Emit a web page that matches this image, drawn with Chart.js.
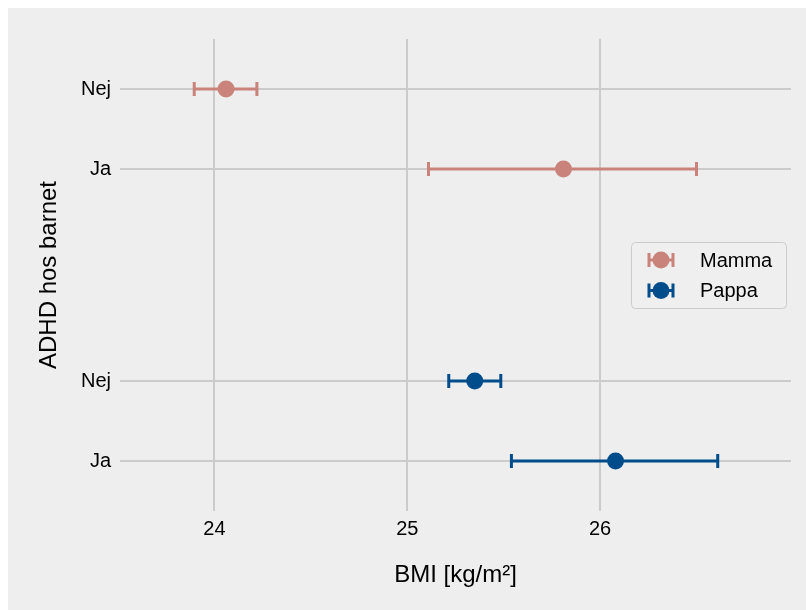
<!DOCTYPE html>
<html>
<head>
<meta charset="utf-8">
<script src="https://cdn.jsdelivr.net/npm/chart.js@4.4.1/dist/chart.umd.min.js"></script>
<style>
  body { margin: 0; background: #ffffff; }
  #wrap { position: absolute; left: 8px; top: 8px; width: 798px; height: 602px; background: #eeeeee; }
</style>
</head>
<body>
<div id="wrap"><canvas id="bmiChart" width="798" height="602"></canvas></div>
<script>
// BMI per ADHD status, mothers and fathers (mean with CI)

const seriesNames = ['Mamma', 'Pappa'];
const seriesColors = ['#c9837b', '#014d8c'];

// rows: Nej, Ja (mother) then Nej, Ja (father)
const rowLabels = ['Nej', 'Ja', 'Nej', 'Ja'];
const rowPos = [4.65, 3.65, 1, 0];
const xTicks = [24, 25, 26];

const mammaMean = [24.06, 25.81];
const mammaLow = [23.895, 25.11];
const mammaHigh = [24.22, 26.50];

const pappaMean = [25.35, 26.08];
const pappaLow = [25.215, 25.54];
const pappaHigh = [25.485, 26.61];

Chart.defaults.font.family = "'Liberation Sans', Arial, sans-serif";
Chart.defaults.color = '#000000';

function makePoints(mean, low, high, rows) {
    return mean.map((m, i) => ({ x: m, y: rows[i], xMin: low[i], xMax: high[i] }));
}

// error bars drawn under the points
const errorBars = {
    id: 'errorBars',
    beforeDatasetsDraw(chart) {
        const ctx = chart.ctx;
        const xs = chart.scales.x, ys = chart.scales.y;
        chart.data.datasets.forEach(ds => {
            ctx.save();
            ctx.strokeStyle = ds.backgroundColor;
            ctx.lineWidth = 3;
            ds.data.forEach(p => {
                const y = ys.getPixelForValue(p.y);
                const x0 = xs.getPixelForValue(p.xMin);
                const x1 = xs.getPixelForValue(p.xMax);
                ctx.beginPath();
                ctx.moveTo(x0, y); ctx.lineTo(x1, y);
                ctx.moveTo(x0, y - 7); ctx.lineTo(x0, y + 7);
                ctx.moveTo(x1, y - 7); ctx.lineTo(x1, y + 7);
                ctx.stroke();
            });
            ctx.restore();
        });
    }
};

// legend box at center right of the plot
const boxLegend = {
    id: 'boxLegend',
    afterDraw(chart) {
        const ctx = chart.ctx;
        const area = chart.chartArea;
        const w = 155, h = 66;
        const left = area.right - 5 - w;
        const top = (area.top + area.bottom) / 2 - h / 2;
        ctx.save();
        ctx.fillStyle = '#efefef';
        ctx.strokeStyle = '#cccccc';
        ctx.lineWidth = 1;
        ctx.beginPath();
        ctx.roundRect(left + 0.5, top + 0.5, w, h, 4);
        ctx.fill();
        ctx.stroke();
        chart.data.datasets.forEach((ds, i) => {
            const y = top + 18 + i * 30.5;
            const cx = left + 30;
            ctx.strokeStyle = ds.backgroundColor;
            ctx.fillStyle = ds.backgroundColor;
            ctx.lineWidth = 3;
            ctx.beginPath();
            ctx.moveTo(cx - 12, y); ctx.lineTo(cx + 12, y);
            ctx.moveTo(cx - 12, y - 7); ctx.lineTo(cx - 12, y + 7);
            ctx.moveTo(cx + 12, y - 7); ctx.lineTo(cx + 12, y + 7);
            ctx.stroke();
            ctx.beginPath();
            ctx.arc(cx, y, 8.5, 0, Math.PI * 2);
            ctx.fill();
            ctx.fillStyle = '#000000';
            ctx.font = "20px 'Liberation Sans', Arial, sans-serif";
            ctx.textBaseline = 'middle';
            ctx.fillText(ds.label, left + 69, y + 1);
        });
        ctx.restore();
    }
};

new Chart(document.getElementById('bmiChart'), {
    type: 'scatter',
    data: {
        datasets: [{
            label: seriesNames[0],
            data: makePoints(mammaMean, mammaLow, mammaHigh, rowPos.slice(0, 2)),
            backgroundColor: seriesColors[0],
            borderWidth: 0,
            pointRadius: 8.5
        }, {
            label: seriesNames[1],
            data: makePoints(pappaMean, pappaLow, pappaHigh, rowPos.slice(2, 4)),
            backgroundColor: seriesColors[1],
            borderWidth: 0,
            pointRadius: 8.5
        }]
    },
    options: {
        responsive: false,
        animation: false,
        layout: { padding: { left: 20, right: 15, top: 31, bottom: 20 } },
        plugins: {
            legend: { display: false },
            tooltip: { enabled: false }
        },
        scales: {
            x: {
                min: 23.51,
                max: 26.99,
                border: { display: false },
                grid: { color: '#cbcbcb', lineWidth: 2, drawTicks: false },
                afterBuildTicks: axis => { axis.ticks = xTicks.map(v => ({ value: v })); },
                afterFit: axis => { axis.height = 79; },
                ticks: { padding: 6, font: { size: 20 }, color: '#000000' },
                title: {
                    display: true,
                    text: 'BMI [kg/m²]',
                    font: { size: 24 },
                    padding: { top: 0, bottom: 0 }
                }
            },
            y: {
                min: -0.625,
                max: 5.275,
                border: { display: false },
                grid: { color: '#cbcbcb', lineWidth: 2, drawTicks: false },
                afterBuildTicks: axis => { axis.ticks = rowPos.map(v => ({ value: v })); },
                afterFit: axis => { axis.width = 92; },
                ticks: {
                    padding: 9,
                    font: { size: 20 },
                    color: '#000000',
                    callback: v => rowLabels[rowPos.indexOf(v)]
                },
                title: {
                    display: true,
                    text: 'ADHD hos barnet',
                    font: { size: 24 },
                    padding: { top: 7, bottom: 0 }
                }
            }
        }
    },
    plugins: [errorBars, boxLegend]
});
</script>
</body>
</html>
